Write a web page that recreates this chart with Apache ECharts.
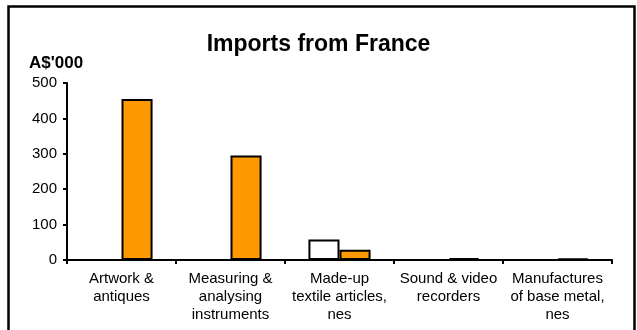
<!DOCTYPE html>
<html>
<head>
<meta charset="utf-8">
<script src="https://cdn.jsdelivr.net/npm/echarts@6/dist/echarts.min.js"></script>
<style>
  html, body { margin: 0; padding: 0; background: #fff; }
  #chart { width: 637px; height: 330px; }
</style>
</head>
<body>
<div id="chart"></div>
<script>
// Data
const categories = [
  'Artwork &\nantiques',
  'Measuring &\nanalysing\ninstruments',
  'Made-up\ntextile articles,\nnes',
  'Sound & video\nrecorders',
  'Manufactures\nof base metal,\nnes'
];
const earlierValues = [0, 0, 58, 0, 0];      // white bars
const laterValues = [455, 295, 29, 5, 4];    // orange bars
const yTicks = { min: 0, max: 500, interval: 100 };

const font = '"Liberation Sans", Arial, sans-serif';

// Init chart
const myChart = echarts.init(document.getElementById('chart'));

const option = {
  animation: false,
  backgroundColor: '#fff',
  title: [
    {
      text: 'Imports from France',
      left: 'center',
      top: 28,
      textStyle: { fontFamily: font, fontSize: 23, fontWeight: 'bold', color: '#000' }
    },
    {
      text: "A$'000",
      left: 24,
      top: 50,
      textStyle: { fontFamily: font, fontSize: 17, fontWeight: 'bold', color: '#000' }
    }
  ],
  graphic: [
    {
      type: 'rect',
      shape: { x: 8.5, y: 6.5, width: 626, height: 340 },
      style: { fill: 'none', stroke: '#000', lineWidth: 2.5 },
      silent: true
    }
  ],
  grid: { left: 67, right: 25, top: 83, bottom: 70 },
  xAxis: {
    type: 'category',
    data: categories,
    axisLine: { lineStyle: { color: '#000', width: 2 } },
    axisTick: { show: true, length: 4, lineStyle: { color: '#000', width: 2 } },
    axisLabel: {
      interval: 0,
      margin: 10,
      color: '#000',
      fontFamily: font,
      fontSize: 15,
      lineHeight: 18
    }
  },
  yAxis: {
    type: 'value',
    min: yTicks.min,
    max: yTicks.max,
    interval: yTicks.interval,
    splitLine: { show: false },
    axisLine: { show: true, lineStyle: { color: '#000', width: 2 } },
    axisTick: { show: true, length: 4, lineStyle: { color: '#000', width: 2 } },
    axisLabel: { color: '#000', fontFamily: font, fontSize: 15, margin: 10 }
  },
  series: [
    {
      name: 'Earlier',
      type: 'bar',
      data: earlierValues,
      barGap: '0%',
      barCategoryGap: '43%',
      itemStyle: { color: '#fff', borderColor: '#000', borderWidth: 2 }
    },
    {
      name: 'Later',
      type: 'bar',
      data: laterValues,
      barGap: '0%',
      barCategoryGap: '43%',
      itemStyle: { color: '#FF9900', borderColor: '#000', borderWidth: 2 }
    }
  ]
};

myChart.setOption(option);
</script>
</body>
</html>
